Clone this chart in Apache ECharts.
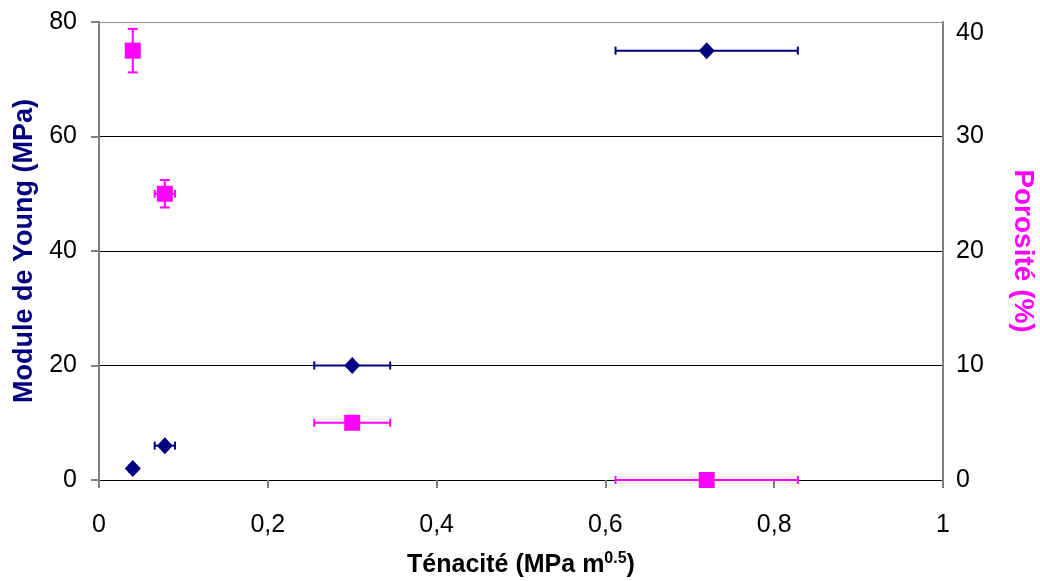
<!DOCTYPE html>
<html><head><meta charset="utf-8">
<script src="https://cdn.jsdelivr.net/npm/echarts@6/dist/echarts.min.js"></script>
<style>html,body{margin:0;padding:0;background:#fff}#c{width:1040px;height:581px}</style>
</head><body><div id="c"></div>
<script>
// Young's modulus (left axis) vs toughness
const youngX = [0.04, 0.078, 0.30, 0.72];
const youngY = [2, 6, 20, 75];
const youngXErr = [0.004, 0.012, 0.045, 0.108];
// Porosity (right axis) vs toughness
const poroX = [0.04, 0.078, 0.30, 0.72];
const poroY = [37.5, 25, 5, 0];
const poroXErr = [0.004, 0.012, 0.045, 0.108];
const poroYErr = [1.9, 1.2, 0, 0];
const leftTicks = [0, 20, 40, 60, 80];
const rightTicks = [0, 10, 20, 30, 40];
const xTicks = [0, 0.2, 0.4, 0.6, 0.8, 1];

const NAVY = '#000080', MAG = '#FF00FF';
const font = 'Liberation Sans, Arial, sans-serif';

function errItem(color) {
  return function (params, api) {
    const x = api.value(0), y = api.value(1), ex = api.value(2), ey = api.value(3);
    const children = [];
    const cap = 4;
    const st = { stroke: color, lineWidth: 2 };
    if (ex > 0) {
      const a = api.coord([x - ex, y]), b = api.coord([x + ex, y]);
      children.push({ type: 'line', shape: { x1: a[0], y1: a[1], x2: b[0], y2: b[1] }, style: st });
      children.push({ type: 'line', shape: { x1: a[0], y1: a[1] - cap, x2: a[0], y2: a[1] + cap }, style: st });
      children.push({ type: 'line', shape: { x1: b[0], y1: b[1] - cap, x2: b[0], y2: b[1] + cap }, style: st });
    }
    if (ey > 0) {
      const a = api.coord([x, y - ey]), b = api.coord([x, y + ey]);
      children.push({ type: 'line', shape: { x1: a[0], y1: a[1], x2: b[0], y2: b[1] }, style: st });
      children.push({ type: 'line', shape: { x1: a[0] - cap - 1, y1: a[1], x2: a[0] + cap + 1, y2: a[1] }, style: st });
      children.push({ type: 'line', shape: { x1: b[0] - cap - 1, y1: b[1], x2: b[0] + cap + 1, y2: b[1] }, style: st });
    }
    return { type: 'group', children };
  };
}

const youngErrData = youngX.map((x, i) => [x, youngY[i], youngXErr[i], 0]);
const poroErrData = poroX.map((x, i) => [x, poroY[i], poroXErr[i], poroYErr[i]]);

const chart = echarts.init(document.getElementById('c'), null, { renderer: 'canvas' });
chart.setOption({
  animation: false,
  backgroundColor: '#fff',
  grid: { left: 99, right: 97, top: 22, bottom: 101, containLabel: false, outerBoundsMode: 'none' },
  xAxis: {
    type: 'value', min: 0, max: 1, interval: 0.2,
    name: 'Ténacité (MPa m{sup|0.5})', nameLocation: 'middle', nameGap: 71,
    nameTextStyle: {
      fontFamily: font, fontSize: 25, fontWeight: 'bold', color: '#000',
      rich: { sup: { fontFamily: font, fontSize: 16, fontWeight: 'bold', color: '#000', verticalAlign: 'top', padding: [0, 0, 12, 0] } }
    },
    axisLine: { lineStyle: { color: '#000', width: 1 } },
    axisTick: { show: true, length: 8, lineStyle: { color: '#808080', width: 2 } },
    axisLabel: { fontFamily: font, fontSize: 25, color: '#000', margin: 33, formatter: v => String(v).replace('.', ',') },
    splitLine: { show: false }
  },
  yAxis: [
    {
      type: 'value', min: 0, max: 80, interval: 20, position: 'left',
      name: 'Module de Young (MPa)', nameLocation: 'middle', nameGap: 61,
      nameTextStyle: { fontFamily: font, fontSize: 27, fontWeight: 'bold', color: NAVY },
      axisLine: { show: true, lineStyle: { color: '#808080', width: 2 } },
      axisTick: { show: true, length: 8, lineStyle: { color: '#808080', width: 2 } },
      axisLabel: { fontFamily: font, fontSize: 25, color: '#000', margin: 22 },
      splitLine: { show: true, lineStyle: { color: ['#000', '#000', '#000', '#000', '#909090'], width: 1 } }
    },
    {
      type: 'value', min: 0, max: 40, interval: 10, position: 'right',
      name: 'Porosité (%)', nameLocation: 'middle', nameGap: 66, nameRotate: -90,
      nameTextStyle: { fontFamily: font, fontSize: 28, fontWeight: 'bold', color: MAG },
      axisLine: { show: true, lineStyle: { color: '#808080', width: 2 } },
      axisTick: { show: false },
      axisLabel: {
        fontFamily: font, fontSize: 25, color: '#000', margin: 13,
        formatter: v => v === 40 ? '{low|' + v + '}' : String(v),
        rich: { low: { fontFamily: font, fontSize: 25, color: '#000', padding: [22, 0, 0, 0] } }
      },
      splitLine: { show: false }
    }
  ],
  series: [
    { type: 'custom', name: 'errY', xAxisIndex: 0, yAxisIndex: 0, renderItem: errItem(NAVY), data: youngErrData, encode: { x: 0, y: 1 }, z: 2 },
    { type: 'custom', name: 'errP', xAxisIndex: 0, yAxisIndex: 1, renderItem: errItem(MAG), data: poroErrData, encode: { x: 0, y: 1 }, z: 2 },
    { type: 'scatter', name: 'Module de Young', yAxisIndex: 0, symbol: 'diamond', symbolSize: [16, 17], itemStyle: { color: NAVY, opacity: 1 }, data: youngX.map((x, i) => [x, youngY[i]]), z: 3 },
    { type: 'scatter', name: 'Porosité', yAxisIndex: 1, symbol: 'rect', symbolSize: 16, itemStyle: { color: MAG, opacity: 1 }, data: poroX.map((x, i) => [x, poroY[i]]), z: 3 }
  ]
});
</script></body></html>
